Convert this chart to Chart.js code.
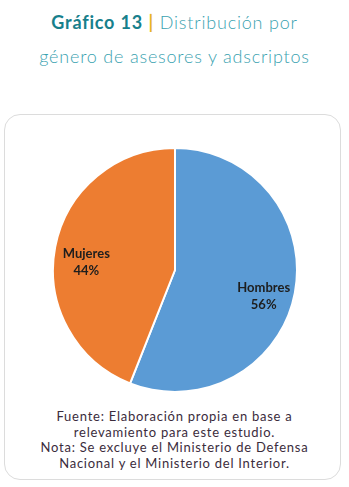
<!DOCTYPE html>
<html>
<head>
<meta charset="utf-8">
<script src="https://cdn.jsdelivr.net/npm/chart.js@4.4.0/dist/chart.umd.min.js"></script>
<style>
  body { margin: 0; width: 349px; height: 487px; background: #fff; position: relative; font-family: Lato, sans-serif; overflow: hidden; }
  .title { position: absolute; left: 0; width: 349px; text-align: center; font-size: 18px; color: #3aa2b0; letter-spacing: 0.8px; font-weight: 300; }
  .title b { color: #17808c; font-weight: 700; }
  .title .bar { color: #e6b422; font-weight: 700; }
  #box { position: absolute; left: 4px; top: 114px; width: 335px; height: 364px; border: 1.5px solid #dcdcdc; border-radius: 16px; }
  #chart-wrap { position: absolute; left: 52px; top: 147px; width: 246px; height: 246px; }
  .note { position: absolute; left: 0; width: 349px; top: 409px; text-align: center; font-size: 13px; line-height: 15.7px; letter-spacing: 0.75px; color: #3b2c3c; }
</style>
</head>
<body>
<div class="title" style="top:11px"><b>Gráfico 13</b> <span class="bar">|</span> Distribución por</div>
<div class="title" style="top:45px">género de asesores y adscriptos</div>
<div id="box"></div>
<div id="chart-wrap"><canvas id="pie"></canvas></div>
<div class="note">Fuente: Elaboración propia en base a<br>relevamiento para este estudio.<br>Nota: Se excluye el Ministerio de Defensa<br>Nacional y el Ministerio del Interior.</div>
<script>
const categories = ['Hombres', 'Mujeres'];
const shares = [56, 44];
const sliceColors = ['#5b9bd5', '#ed7d31'];

// labels drawn inside each slice: name on top, percent below
const sliceLabels = {
    id: 'sliceLabels',
    afterDatasetsDraw(chart) {
        const ctx = chart.ctx;
        const meta = chart.getDatasetMeta(0);
        ctx.save();
        ctx.font = 'bold 13px Lato, sans-serif';
        ctx.fillStyle = '#1e1e1e';
        ctx.textAlign = 'center';
        ctx.textBaseline = 'middle';
        meta.data.forEach((arc, i) => {
            const mid = (arc.startAngle + arc.endAngle) / 2;
            const r = arc.outerRadius * 0.74;
            const x = arc.x + Math.cos(mid) * r;
            const y = arc.y + Math.sin(mid) * r + 9;
            ctx.fillText(categories[i], x, y - 8);
            ctx.fillText(shares[i] + '%', x, y + 9);
        });
        ctx.restore();
    }
};

new Chart(document.getElementById('pie'), {
    type: 'pie',
    data: {
        labels: categories,
        datasets: [{
            data: shares,
            backgroundColor: sliceColors,
            borderColor: '#ffffff',
            borderWidth: 2,
            hoverOffset: 0
        }]
    },
    options: {
        responsive: true,
        maintainAspectRatio: false,
        animation: false,
        layout: { padding: 0 },
        plugins: {
            legend: { display: false },
            tooltip: { enabled: false }
        }
    },
    plugins: [sliceLabels]
});
</script>
</body>
</html>
